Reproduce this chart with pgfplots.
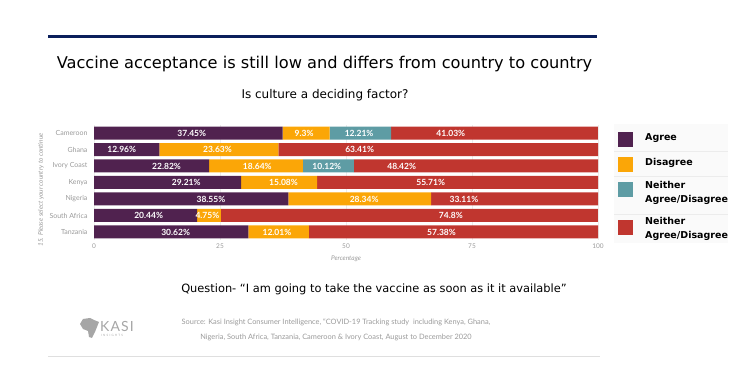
\documentclass[border=0pt]{standalone}
\usepackage{fontspec}
\setmainfont{Lato}
\newfontfamily\dv{DejaVu Sans}
\usepackage{pgfplots}
\pgfplotsset{compat=1.18}
\usepackage{pgfplotstable}

\definecolor{cAgree}{HTML}{50224F}
\definecolor{cDis}{HTML}{FBA607}
\definecolor{cNei}{HTML}{5E9CA4}
\definecolor{cRed}{HTML}{C0362F}
\definecolor{navy}{HTML}{0B1F5B}
\definecolor{lab}{HTML}{9A9A9A}

% shares (percent) per country: 0 Cameroon ... 6 Tanzania
\pgfplotstableread{
idx agree disagree neither neither2
0 37.45 9.3 12.21 41.03
1 12.96 23.63 0 63.41
2 22.82 18.64 10.12 48.42
3 29.21 15.08 0 55.71
4 38.55 28.34 0 33.11
5 20.44 4.75 0 74.8
6 30.62 12.01 0 57.38
}\data

% value labels as placed in the chart (x position, row, text)
\pgfplotstableread{
y x lab
0 19.4 37.45
0 41.7 9.3
0 52.6 12.21
0 70.8 41.03
1 5.5 12.96
1 24.5 23.63
1 52.7 63.41
2 14.4 22.82
2 32.4 18.64
2 46.2 10.12
2 61.05 48.42
3 18.3 29.21
3 37.6 15.08
3 66.8 55.71
4 23.2 38.55
4 53.6 28.34
4 73.4 33.11
5 10.84 20.44
5 22.5 4.75
5 70.8 74.8
6 16.2 30.62
6 36.3 12.01
6 68.95 57.38
}\labels

\pgfplotsset{frame/.style={
  at={(94pt,128.75pt)}, anchor=south west,
  scale only axis, width=504pt, height=115.5pt,
  xmin=0, xmax=100, ymin=-0.5, ymax=6.5, y dir=reverse}}

\begin{document}
\begin{tikzpicture}[x=1pt,y=1pt]
\path[use as bounding box] (0,0) rectangle (740,369);
\begin{axis}[
  frame,
  xbar stacked, bar width=13pt,
  ytick={0,...,6},
  yticklabels={Cameroon,Ghana,Ivory Coast,Kenya,Nigeria,South Africa,Tanzania},
  xtick={0,25,50,75,100},
  xmajorgrids, major grid style={gray!15},
  axis line style={draw=none}, tick style={draw=none},
  yticklabel style={font=\fontsize{7}{8}\selectfont, text=lab, xshift=-3pt},
  xticklabel style={font=\fontsize{6.5}{7}\selectfont, text=lab},
  /pgf/number format/assume math mode=true,
  xlabel={Percentage},
  xlabel style={font=\itshape\fontsize{6.5}{7}\selectfont, text=lab},
  ylabel={15. Please select your country to continue},
  ylabel style={font=\itshape\fontsize{6.5}{7}\selectfont, text=lab,
    at={(axis description cs:-0.105,0.435)}, anchor=center},
]
\addplot[fill=cAgree, draw=none] table[x=agree, y=idx]{\data};
\addplot[fill=cDis, draw=none] table[x=disagree, y=idx]{\data};
\addplot[fill=cNei, draw=none] table[x=neither, y=idx]{\data};
\addplot[fill=cRed, draw=none] table[x=neither2, y=idx]{\data};
\end{axis}
\begin{axis}[frame, hide axis]
\addplot[only marks, mark=*, mark size=0pt,
  mark options={draw=none, fill=none},
  point meta=explicit symbolic,
  nodes near coords={\pgfplotspointmeta\%},
  every node near coord/.style={font=\bfseries\fontsize{8.5}{9}\selectfont,
    text=white, anchor=center, inner sep=0pt}]
  table[x=x, y=y, meta=lab]{\labels};
\end{axis}

% header
\draw[navy, line width=3pt] (48,332) -- (597,332);
\node[font=\dv\fontsize{16.2}{18}\selectfont] at (324.5,305) {Vaccine acceptance is still low and differs from country to country};
\node[font=\dv\fontsize{12}{14}\selectfont] at (325,274) {Is culture a deciding factor?};

% legend
\fill[gray!4] (614,245) rectangle (728,126);
\foreach \yy in {217,192,154} \draw[gray!15, line width=1pt] (614,\yy) -- (728,\yy);
\fill[cAgree] (617.5,221.5) rectangle (632.5,236.5);
\fill[cDis] (617.5,196.5) rectangle (632.5,211.5);
\fill[cNei] (617.5,171.5) rectangle (632.5,186.5);
\fill[cRed] (617.5,133.5) rectangle (632.5,148.5);
\begin{scope}[every node/.style={anchor=west, font=\dv\bfseries\fontsize{9.5}{14}\selectfont, align=left, inner sep=0pt}]
\node at (645,231) {Agree};
\node at (645,206) {Disagree};
\node at (645,176) {Neither\\Agree/Disagree};
\node at (645,140) {Neither\\Agree/Disagree};
\end{scope}

% question
\node[font=\dv\fontsize{11.4}{13}\selectfont] at (374,80) {Question- “I am going to take the vaccine as soon as it it available”};

% source
\node[font=\fontsize{7.4}{15}\selectfont, text=lab, align=center] at (336,39) {Source: Kasi Insight Consumer Intelligence, “COVID-19 Tracking study\ \ including Kenya, Ghana,\\Nigeria, South Africa, Tanzania, Cameroon \& Ivory Coast, August to December 2020};

% logo
\fill[gray!70] (80,45) -- (83,50) -- (90,51) -- (94,49) -- (99,47) -- (97,42) -- (95,37) -- (92,31) -- (89,32) -- (88,38) -- (83,40) -- cycle;
\node[font=\fontsize{14}{14}\selectfont, text=gray!70, anchor=west, inner sep=0pt] at (100,43) {\addfontfeatures{LetterSpace=8}KASI};
\node[font=\fontsize{3}{3}\selectfont, text=gray!70, anchor=west, inner sep=0pt] at (101,34) {\addfontfeatures{LetterSpace=40}INSIGHTS};

% bottom line
\draw[gray!25, line width=1pt] (48,12) -- (600,12);
\end{tikzpicture}
\end{document}
